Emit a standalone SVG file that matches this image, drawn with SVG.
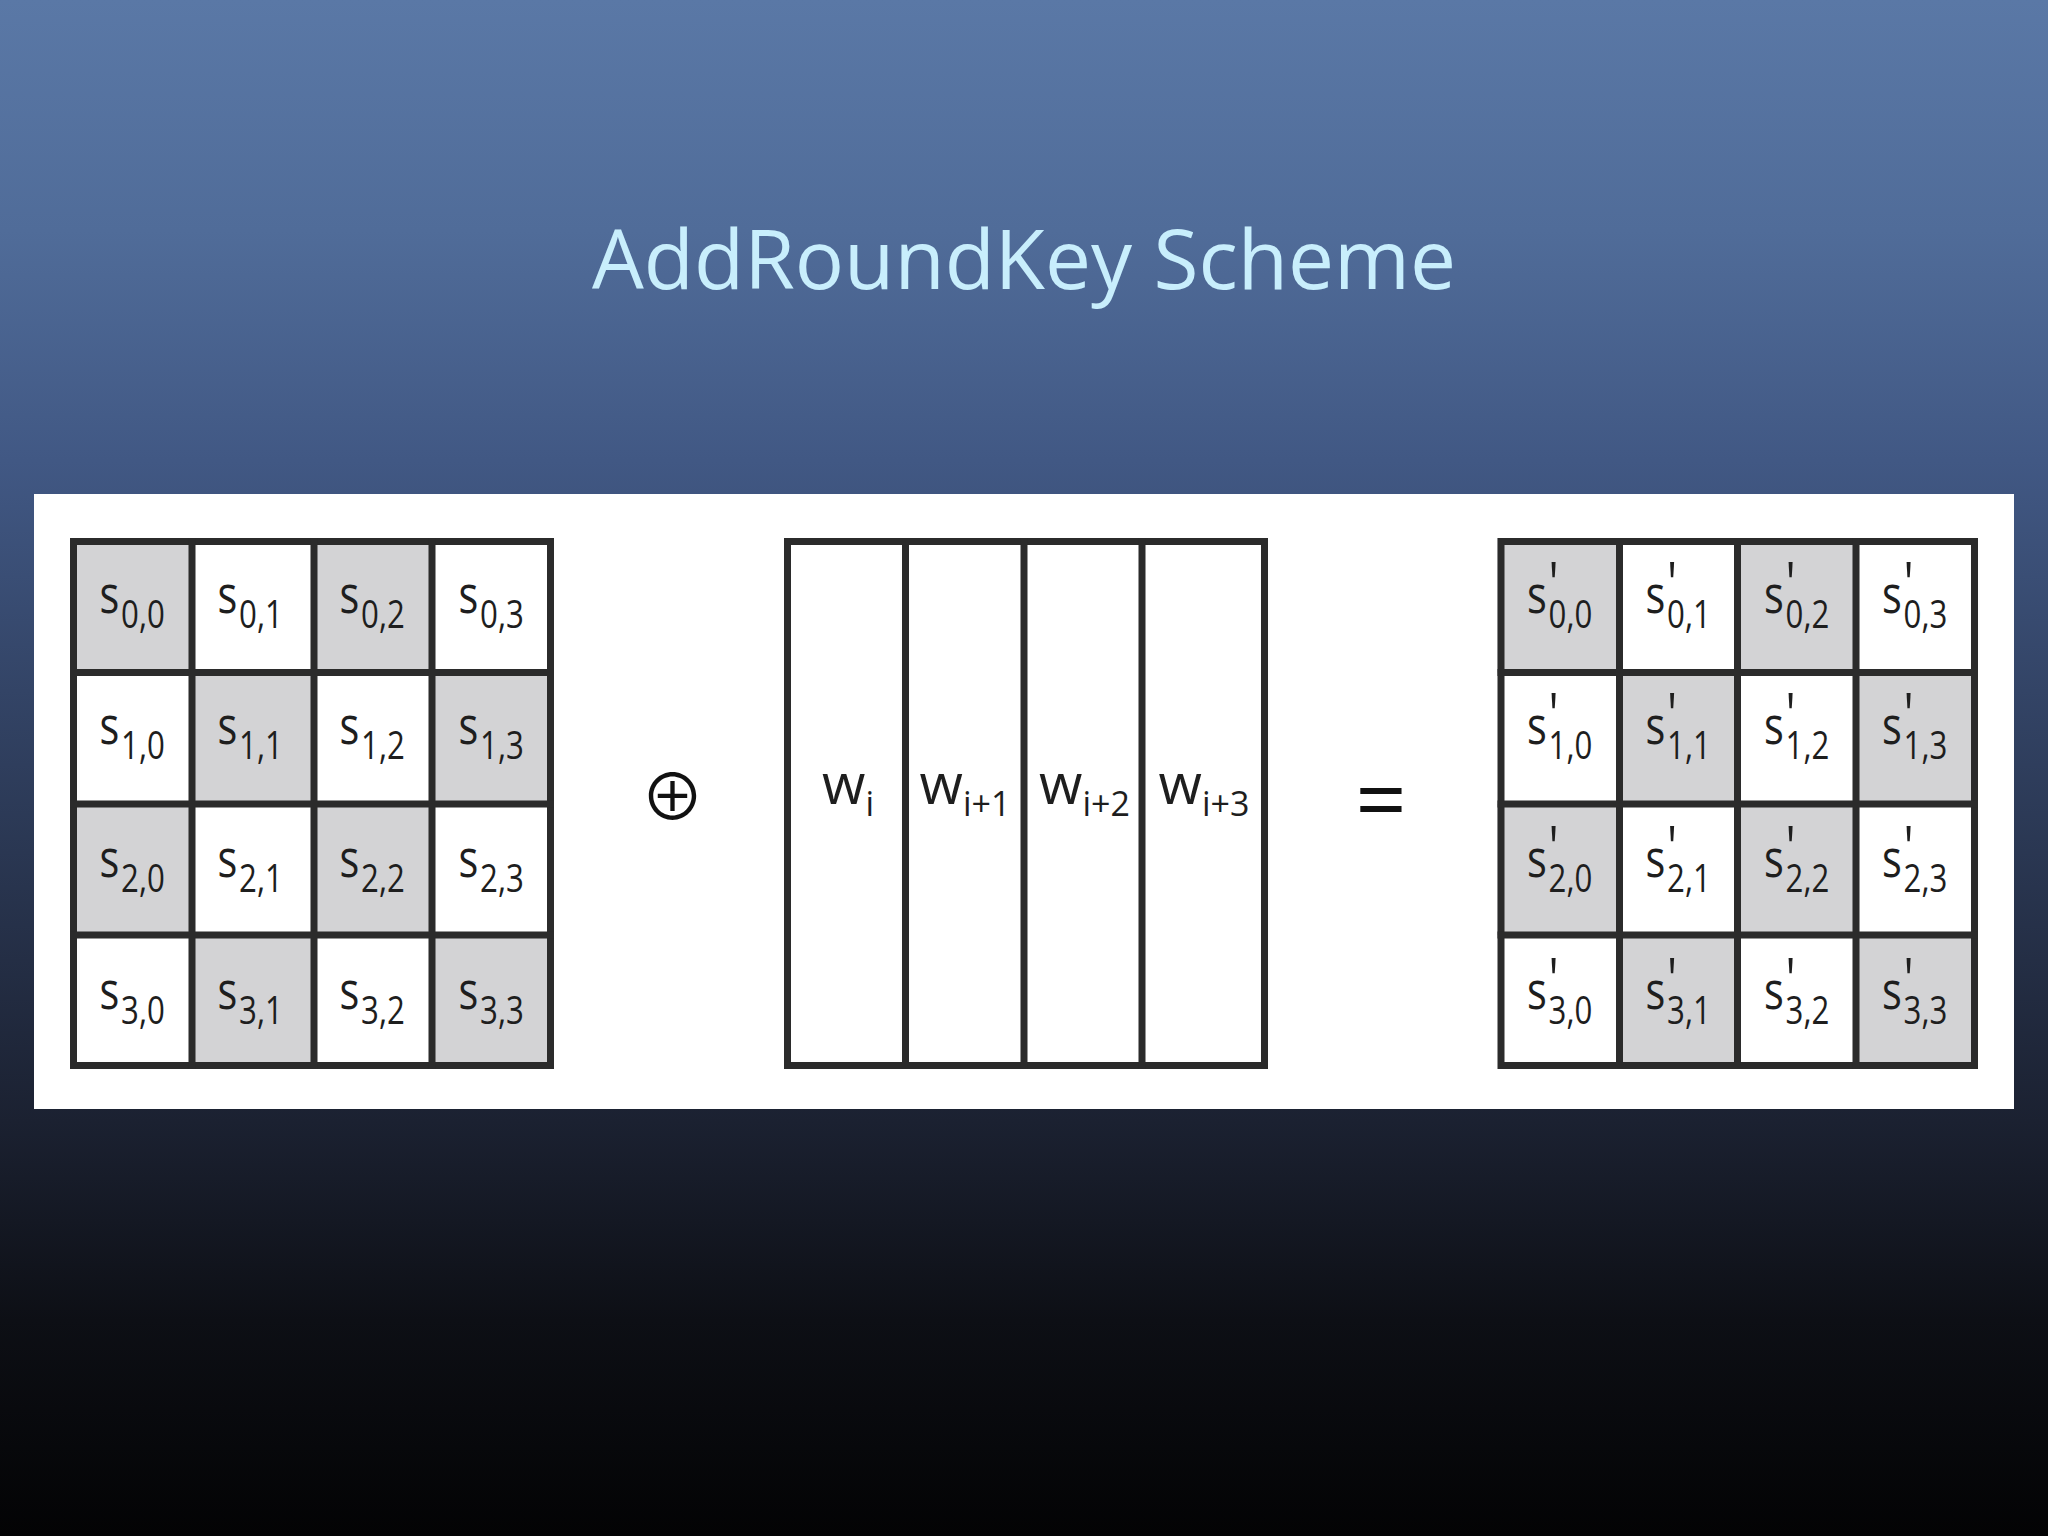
<svg xmlns="http://www.w3.org/2000/svg" width="2048" height="1536" viewBox="0 0 2048 1536">
<defs>
<linearGradient id="bg" x1="0" y1="0" x2="0" y2="1">
<stop offset="0" stop-color="#5a78a6"/>
<stop offset="0.15" stop-color="#506c99"/>
<stop offset="0.3" stop-color="#415884"/>
<stop offset="0.45" stop-color="#334466"/>
<stop offset="0.73" stop-color="#1b2131"/>
<stop offset="0.86" stop-color="#0d0f15"/>
<stop offset="1" stop-color="#030304"/>
</linearGradient>
<style>
.g{fill:#d3d3d5}
.ln{stroke:#2b2b2b;stroke-width:7;fill:none}
.lbl{font-family:"Open Sans","Noto Sans",sans-serif;font-size:52px;fill:#1e1e1e}
.sub{font-size:39px}
.pr{font-size:58px}
.w{font-family:"Open Sans","Noto Sans",sans-serif;font-size:56px;fill:#1e1e1e}
.ws{font-size:34px}
.title{font-family:"Open Sans","Noto Sans",sans-serif;font-size:82px;fill:#c8eefc}
</style>
</defs>
<rect x="0" y="0" width="2048" height="1536" fill="url(#bg)"/>
<text id="title" class="title" x="1024" y="289" text-anchor="middle">AddRoundKey Scheme</text>
<rect id="panel" x="34" y="494" width="1980" height="615" fill="#ffffff"/>

<g id="state">
<rect x="70" y="538" width="484" height="531" fill="#ffffff"/>
<rect class="g" x="70" y="538" width="122" height="134.5"/>
<rect class="g" x="314" y="538" width="118" height="134.5"/>
<rect class="g" x="192" y="672.5" width="122" height="131.5"/>
<rect class="g" x="432" y="672.5" width="122" height="131.5"/>
<rect class="g" x="70" y="804" width="122" height="131"/>
<rect class="g" x="314" y="804" width="118" height="131"/>
<rect class="g" x="192" y="935" width="122" height="134"/>
<rect class="g" x="432" y="935" width="122" height="134"/>
<rect class="ln" x="73.5" y="541.5" width="477" height="524"/>
<path class="ln" d="M192 538V1069M314 538V1069M432 538V1069M70 672.5H554M70 804H554M70 935H554"/>
<text class="lbl" transform="translate(99.5,613) scale(0.8,1)">s<tspan class="sub" x="27" y="15">0,0</tspan></text>
<text class="lbl" transform="translate(217.5,613) scale(0.8,1)">s<tspan class="sub" x="27" y="15">0,1</tspan></text>
<text class="lbl" transform="translate(339.5,613) scale(0.8,1)">s<tspan class="sub" x="27" y="15">0,2</tspan></text>
<text class="lbl" transform="translate(458.5,613) scale(0.8,1)">s<tspan class="sub" x="27" y="15">0,3</tspan></text>
<text class="lbl" transform="translate(99.5,744) scale(0.8,1)">s<tspan class="sub" x="27" y="15">1,0</tspan></text>
<text class="lbl" transform="translate(217.5,744) scale(0.8,1)">s<tspan class="sub" x="27" y="15">1,1</tspan></text>
<text class="lbl" transform="translate(339.5,744) scale(0.8,1)">s<tspan class="sub" x="27" y="15">1,2</tspan></text>
<text class="lbl" transform="translate(458.5,744) scale(0.8,1)">s<tspan class="sub" x="27" y="15">1,3</tspan></text>
<text class="lbl" transform="translate(99.5,877) scale(0.8,1)">s<tspan class="sub" x="27" y="15">2,0</tspan></text>
<text class="lbl" transform="translate(217.5,877) scale(0.8,1)">s<tspan class="sub" x="27" y="15">2,1</tspan></text>
<text class="lbl" transform="translate(339.5,877) scale(0.8,1)">s<tspan class="sub" x="27" y="15">2,2</tspan></text>
<text class="lbl" transform="translate(458.5,877) scale(0.8,1)">s<tspan class="sub" x="27" y="15">2,3</tspan></text>
<text class="lbl" transform="translate(99.5,1009) scale(0.8,1)">s<tspan class="sub" x="27" y="15">3,0</tspan></text>
<text class="lbl" transform="translate(217.5,1009) scale(0.8,1)">s<tspan class="sub" x="27" y="15">3,1</tspan></text>
<text class="lbl" transform="translate(339.5,1009) scale(0.8,1)">s<tspan class="sub" x="27" y="15">3,2</tspan></text>
<text class="lbl" transform="translate(458.5,1009) scale(0.8,1)">s<tspan class="sub" x="27" y="15">3,3</tspan></text>
</g>

<g id="xor-op">
<text x="672.5" y="820" text-anchor="middle" font-family="Noto Sans CJK SC, sans-serif" font-size="64" fill="#111111">⊕</text>
</g>

<g id="key">
<rect x="784" y="538" width="484" height="531" fill="#ffffff"/>
<rect class="ln" x="787.5" y="541.5" width="477" height="524"/>
<path class="ln" d="M905.5 538V1069M1024 538V1069M1142 538V1069"/>
<text class="w" x="848" y="804" text-anchor="middle">w<tspan class="ws" dy="12">i</tspan></text>
<text class="w" x="965" y="804" text-anchor="middle">w<tspan class="ws" dy="12">i+1</tspan></text>
<text class="w" x="1084.5" y="804" text-anchor="middle">w<tspan class="ws" dy="12">i+2</tspan></text>
<text class="w" x="1204" y="804" text-anchor="middle">w<tspan class="ws" dy="12">i+3</tspan></text>
</g>

<g id="equals-op">
<text x="1381" y="832" text-anchor="middle" font-family="Open Sans, sans-serif" font-size="90" fill="#111111">=</text>
</g>

<g id="result">
<rect x="1497.5" y="538" width="480.5" height="531" fill="#ffffff"/>
<rect class="g" x="1497.5" y="538" width="122" height="134.5"/>
<rect class="g" x="1737.5" y="538" width="118.5" height="134.5"/>
<rect class="g" x="1619.5" y="672.5" width="118" height="131.5"/>
<rect class="g" x="1856" y="672.5" width="122" height="131.5"/>
<rect class="g" x="1497.5" y="804" width="122" height="131"/>
<rect class="g" x="1737.5" y="804" width="118.5" height="131"/>
<rect class="g" x="1619.5" y="935" width="118" height="134"/>
<rect class="g" x="1856" y="935" width="122" height="134"/>
<rect class="ln" x="1501" y="541.5" width="473.5" height="524"/>
<path class="ln" d="M1619.5 538V1069M1737.5 538V1069M1856 538V1069M1497.5 672.5H1978M1497.5 804H1978M1497.5 935H1978"/>
<text class="lbl" transform="translate(1527,613) scale(0.8,1)">s<tspan class="pr" x="27" y="-9">'</tspan><tspan class="sub" x="27" y="15">0,0</tspan></text>
<text class="lbl" transform="translate(1645.5,613) scale(0.8,1)">s<tspan class="pr" x="27" y="-9">'</tspan><tspan class="sub" x="27" y="15">0,1</tspan></text>
<text class="lbl" transform="translate(1764,613) scale(0.8,1)">s<tspan class="pr" x="27" y="-9">'</tspan><tspan class="sub" x="27" y="15">0,2</tspan></text>
<text class="lbl" transform="translate(1882,613) scale(0.8,1)">s<tspan class="pr" x="27" y="-9">'</tspan><tspan class="sub" x="27" y="15">0,3</tspan></text>
<text class="lbl" transform="translate(1527,744) scale(0.8,1)">s<tspan class="pr" x="27" y="-9">'</tspan><tspan class="sub" x="27" y="15">1,0</tspan></text>
<text class="lbl" transform="translate(1645.5,744) scale(0.8,1)">s<tspan class="pr" x="27" y="-9">'</tspan><tspan class="sub" x="27" y="15">1,1</tspan></text>
<text class="lbl" transform="translate(1764,744) scale(0.8,1)">s<tspan class="pr" x="27" y="-9">'</tspan><tspan class="sub" x="27" y="15">1,2</tspan></text>
<text class="lbl" transform="translate(1882,744) scale(0.8,1)">s<tspan class="pr" x="27" y="-9">'</tspan><tspan class="sub" x="27" y="15">1,3</tspan></text>
<text class="lbl" transform="translate(1527,877) scale(0.8,1)">s<tspan class="pr" x="27" y="-9">'</tspan><tspan class="sub" x="27" y="15">2,0</tspan></text>
<text class="lbl" transform="translate(1645.5,877) scale(0.8,1)">s<tspan class="pr" x="27" y="-9">'</tspan><tspan class="sub" x="27" y="15">2,1</tspan></text>
<text class="lbl" transform="translate(1764,877) scale(0.8,1)">s<tspan class="pr" x="27" y="-9">'</tspan><tspan class="sub" x="27" y="15">2,2</tspan></text>
<text class="lbl" transform="translate(1882,877) scale(0.8,1)">s<tspan class="pr" x="27" y="-9">'</tspan><tspan class="sub" x="27" y="15">2,3</tspan></text>
<text class="lbl" transform="translate(1527,1009) scale(0.8,1)">s<tspan class="pr" x="27" y="-9">'</tspan><tspan class="sub" x="27" y="15">3,0</tspan></text>
<text class="lbl" transform="translate(1645.5,1009) scale(0.8,1)">s<tspan class="pr" x="27" y="-9">'</tspan><tspan class="sub" x="27" y="15">3,1</tspan></text>
<text class="lbl" transform="translate(1764,1009) scale(0.8,1)">s<tspan class="pr" x="27" y="-9">'</tspan><tspan class="sub" x="27" y="15">3,2</tspan></text>
<text class="lbl" transform="translate(1882,1009) scale(0.8,1)">s<tspan class="pr" x="27" y="-9">'</tspan><tspan class="sub" x="27" y="15">3,3</tspan></text>
</g>
</svg>
